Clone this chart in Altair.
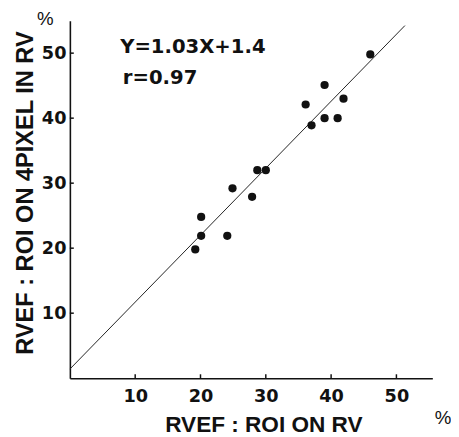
import altair as alt
import pandas as pd

# Data
x_vals = [19.2, 20.1, 20.1, 24.1, 24.9, 27.9, 28.7, 30.0, 36.1, 37.0, 39.0, 39.0, 41.0, 41.9, 46.0]
y_vals = [19.8, 21.9, 24.8, 21.9, 29.2, 27.9, 32.0, 32.0, 42.1, 38.9, 45.1, 40.0, 40.0, 43.0, 49.8]
tick_values = [10, 20, 30, 40, 50]
slope = 1.03
intercept = 1.4
line_x = [0, 51.3]
eq_text = ["Y=1.03X+1.4", "r=0.97"]
eq_x = [7.7, 8.1]
eq_y = [50.0, 45.2]

pts = pd.DataFrame({"x": x_vals, "y": y_vals})
reg = pd.DataFrame({"x": line_x, "y": [slope * v + intercept for v in line_x]})
tk = pd.DataFrame({"t": tick_values, "z": [0] * len(tick_values), "l": [0.6] * len(tick_values)})
ann = pd.DataFrame({"text": eq_text, "x": eq_x, "y": eq_y})

xs = alt.Scale(domain=[0, 55.5], nice=False, zero=False)
ys = alt.Scale(domain=[0, 55], nice=False, zero=False)

INK = "#111111"

x_axis = alt.Axis(
    values=tick_values, title="RVEF : ROI ON RV", ticks=False, grid=False,
    labelPadding=10, labelFont="DejaVu Sans", labelFontWeight="bold", labelFontSize=18,
    labelColor=INK, domainColor=INK, domainWidth=1.6,
    titleFont="Liberation Sans", titleFontWeight="bold", titleFontSize=23, titleColor=INK,
    titleX=197, titleY=54, titleAlign="center", titleBaseline="alphabetic")
y_axis = alt.Axis(
    values=tick_values, title="RVEF : ROI ON 4PIXEL IN RV", ticks=False, grid=False,
    labelPadding=4, labelFont="DejaVu Sans", labelFontWeight="bold", labelFontSize=18,
    labelColor=INK, domainColor=INK, domainWidth=1.6,
    titleFont="Liberation Sans", titleFontWeight="bold", titleFontSize=24, titleColor=INK,
    titleAngle=270, titleX=-38, titleY=175, titleAlign="center", titleBaseline="alphabetic")

line = alt.Chart(reg).mark_line(color="#222222", strokeWidth=1).encode(
    x=alt.X("x:Q", scale=xs, axis=x_axis),
    y=alt.Y("y:Q", scale=ys, axis=y_axis),
)

points = alt.Chart(pts).mark_point(filled=True, size=70, color=INK, opacity=1).encode(
    x=alt.X("x:Q", scale=xs, axis=x_axis),
    y=alt.Y("y:Q", scale=ys, axis=y_axis),
)

xticks = alt.Chart(tk).mark_rule(color=INK, strokeWidth=1.5).encode(
    x=alt.X("t:Q", scale=xs, axis=x_axis),
    y=alt.Y("z:Q", scale=ys, axis=y_axis),
    y2="l:Q",
)
yticks = alt.Chart(tk).mark_rule(color=INK, strokeWidth=1.5).encode(
    y=alt.Y("t:Q", scale=ys, axis=y_axis),
    x=alt.X("z:Q", scale=xs, axis=x_axis),
    x2="l:Q",
)

eq = alt.Chart(ann).mark_text(
    font="DejaVu Sans", fontWeight="bold", fontSize=20, color=INK,
    align="left", baseline="alphabetic"
).encode(
    x=alt.X("x:Q", scale=xs, axis=x_axis),
    y=alt.Y("y:Q", scale=ys, axis=y_axis),
    text="text:N",
)

pct_y = alt.Chart(pd.DataFrame({"s": ["%"]})).mark_text(
    font="Liberation Sans", fontSize=19, color=INK, align="center", baseline="middle"
).encode(x=alt.value(-25), y=alt.value(-2), text="s:N")

pct_x = alt.Chart(pd.DataFrame({"s": ["%"]})).mark_text(
    font="Liberation Sans", fontSize=19, color=INK, align="center", baseline="middle"
).encode(x=alt.value(380), y=alt.value(405), text="s:N")

chart = alt.layer(line, points, xticks, yticks, eq, pct_y, pct_x).properties(
    width=369, height=364,
    autosize=alt.AutoSizeParams(type="none"),
    padding={"left": 63, "top": 9, "right": 19, "bottom": 56},
    background="white",
).configure_view(stroke=None)

chart.save("out.html", embed_options={"renderer": "svg", "actions": False})
